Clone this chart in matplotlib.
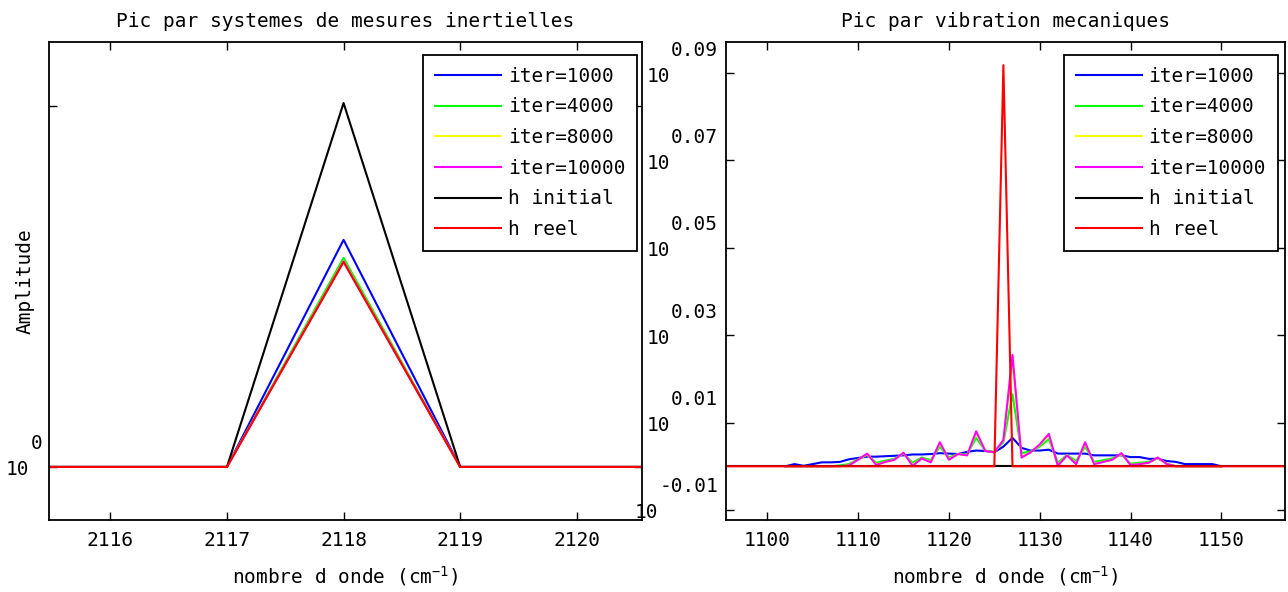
import matplotlib
matplotlib.use('Agg')
import matplotlib.pyplot as plt
import numpy as np
from matplotlib.transforms import offset_copy

plt.rcParams['font.family'] = 'DejaVu Sans Mono'
plt.rcParams['font.size'] = 14
plt.rcParams['mathtext.fontset'] = 'custom'
plt.rcParams['mathtext.rm'] = 'DejaVu Sans Mono'
plt.rcParams['mathtext.default'] = 'rm'

labels = ['iter=1000', 'iter=4000', 'iter=8000', 'iter=10000', 'h initial', 'h reel']
colors = ['#0000ff', '#00ff00', '#ffff00', '#ff00ff', '#000000', '#ff0000']

# --- pic par systemes de mesures inertielles ---
nu_imu = [2115, 2116, 2117, 2118, 2119, 2120, 2121]
imu_iter1000 = [1.0, 1.0, 1.0, 1.629, 1.0, 1.0, 1.0]
imu_iter4000 = [1.0, 1.0, 1.0, 1.579, 1.0, 1.0, 1.0]
imu_iter8000 = [1.0, 1.0, 1.0, 1.570, 1.0, 1.0, 1.0]
imu_iter10000 = [1.0, 1.0, 1.0, 1.569, 1.0, 1.0, 1.0]
imu_h_initial = [1.0, 1.0, 1.0, 2.008, 1.0, 1.0, 1.0]
imu_h_reel = [1.0, 1.0, 1.0, 1.568, 1.0, 1.0, 1.0]

# --- pic par vibration mecaniques ---
nu_vib = list(range(1102, 1151))
vib_iter1000 = [0, 0.0005, 0.0001, 0.0005, 0.0009, 0.0009, 0.0010, 0.0016, 0.0019, 0.0022,
                0.0022, 0.0023, 0.0024, 0.0025, 0.0027, 0.0027, 0.0028, 0.0030, 0.0029, 0.0028,
                0.0033, 0.0036, 0.0035, 0.0032, 0.0045, 0.0065, 0.0042, 0.0036, 0.0036, 0.0038,
                0.0029, 0.0029, 0.0029, 0.0029, 0.0025, 0.0025, 0.0025, 0.0025, 0.0021, 0.0021,
                0.0017, 0.0017, 0.0012, 0.0010, 0.0005, 0.0005, 0.0005, 0.0005, 0]
vib_iter4000 = [0, 0, 0, 0, 0, 0, 0.0002, 0.0005, 0.0016, 0.0026,
                0.0008, 0.0013, 0.0017, 0.0029, 0.0008, 0.0020, 0.0014, 0.0045, 0.0020, 0.0028,
                0.0027, 0.0065, 0.0036, 0.0033, 0.0055, 0.0165, 0.0030, 0.0034, 0.0045, 0.0062,
                0.0008, 0.0026, 0.0012, 0.0045, 0.0010, 0.0014, 0.0018, 0.0027, 0.0006, 0.0008,
                0.0010, 0.0018, 0.0006, 0, 0, 0, 0, 0, 0]
vib_iter8000 = [0, 0, 0, 0, 0, 0, 0, 0.0002, 0.0015, 0.0028,
                0.0004, 0.0010, 0.0015, 0.0030, 0.0002, 0.0018, 0.0010, 0.0053, 0.0016, 0.0028,
                0.0025, 0.0077, 0.0035, 0.0032, 0.0059, 0.0240, 0.0022, 0.0032, 0.0049, 0.0071,
                0.0002, 0.0025, 0.0006, 0.0053, 0.0006, 0.0010, 0.0015, 0.0029, 0.0003, 0.0005,
                0.0008, 0.0019, 0.0005, 0, 0, 0, 0, 0, 0]
vib_iter10000 = [0, 0, 0, 0, 0, 0, 0, 0.0002, 0.0015, 0.0029,
                 0.0003, 0.0010, 0.0015, 0.0031, 0.0001, 0.0018, 0.0009, 0.0055, 0.0015, 0.0028,
                 0.0025, 0.0080, 0.0035, 0.0032, 0.0060, 0.0255, 0.0020, 0.0032, 0.0050, 0.0074,
                 0.0001, 0.0025, 0.0005, 0.0055, 0.0005, 0.0010, 0.0015, 0.0030, 0.0003, 0.0005,
                 0.0008, 0.0020, 0.0005, 0, 0, 0, 0, 0, 0]
nu_ref = [1090, 1125, 1126, 1127, 1160]
vib_h_initial = [0, 0, 0, 0, 0]
vib_h_reel = [0, 0, 0.0918, 0, 0]

imu_yticks = [1.0, 2.0]
vib_yticks = [-0.01, 0.01, 0.03, 0.05, 0.07, 0.09]
vib_ytick_text = ['-0.01', '0.01', '0.03', '0.05', '0.07', '0.09']

fig = plt.figure(figsize=(12.88, 5.92), dpi=100)
ax1 = fig.add_axes([0.0377, 0.1216, 0.4608, 0.8074])
ax2 = fig.add_axes([0.5640, 0.1216, 0.4336, 0.8074])

imu = [imu_iter1000, imu_iter4000, imu_iter8000, imu_iter10000, imu_h_initial, imu_h_reel]
for ys, c, lab in zip(imu, colors, labels):
    ax1.plot(nu_imu, ys, color=c, lw=1.5, label=lab)

vib = [vib_iter1000, vib_iter4000, vib_iter8000, vib_iter10000]
for ys, c, lab in zip(vib, colors[:4], labels[:4]):
    ax2.plot(nu_vib, ys, color=c, lw=1.5, label=lab)
ax2.plot(nu_ref, vib_h_initial, color=colors[4], lw=1.5, label=labels[4])
ax2.plot(nu_ref, vib_h_reel, color=colors[5], lw=1.5, label=labels[5])

ax1.set_xlim(2115.47, 2120.56)
ax1.set_ylim(0.853, 2.177)
ax1.set_xticks([2116, 2117, 2118, 2119, 2120])
ax1.set_yticks(imu_yticks)
ax1.set_yticklabels(['', ''])

ax2.set_xlim(1095.5, 1157.0)
ax2.set_ylim(-0.0123, 0.0971)
ax2.set_xticks([1100, 1110, 1120, 1130, 1140, 1150])
ax2.set_yticks(vib_yticks)
ax2.set_yticklabels([''] * len(vib_yticks))


def log_style_label(ax, y, sup, dx):
    # "10" on the baseline with the exponent raised to its right
    tr = ax.get_yaxis_transform()
    ax.text(0, y, sup, ha='right', va='center', clip_on=False,
            transform=offset_copy(tr, fig=fig, x=dx, y=23, units='dots'))
    ax.text(0, y, '10', ha='right', va='center', clip_on=False,
            transform=offset_copy(tr, fig=fig, x=dx - 11.7 * len(sup) - 1, y=-3, units='dots'))


log_style_label(ax1, 1.0, '0', -6.5)
for y, s in zip(vib_yticks, vib_ytick_text):
    if s.startswith('-'):
        ax2.text(0, y, s, ha='right', va='center', clip_on=False,
                 transform=offset_copy(ax2.get_yaxis_transform(), fig=fig, x=-8.5, y=23, units='dots'))
        ax2.text(0, y, '10', ha='right', va='center', clip_on=False,
                 transform=offset_copy(ax2.get_yaxis_transform(), fig=fig,
                                       x=-8.5 - 11.7 * len(s) - 1, y=-3, units='dots'))
    else:
        log_style_label(ax2, y, s, -8.5)

for ax, title in [(ax1, 'Pic par systemes de mesures inertielles'),
                  (ax2, 'Pic par vibration mecaniques')]:
    ax.set_title(title, fontsize=14, pad=11)
    ax.set_xlabel('nombre d onde (cm$^{-1}$)', labelpad=10)
    ax.tick_params(direction='in', length=6, width=1, top=True, right=True,
                   labelsize=14, pad=8)
    for sp in ax.spines.values():
        sp.set_linewidth(1.3)

ax1.set_ylabel('Amplitude')
ax1.yaxis.set_label_coords(-0.023, 0.5)

ax1.legend(loc='upper right', bbox_to_anchor=(1 - 5 / 593.5, 1 - 13 / 478), borderaxespad=0,
           fancybox=False, edgecolor='black', framealpha=1, handlelength=3.4,
           handletextpad=0.36, labelspacing=0.6, borderpad=0.6).get_frame().set_linewidth(1.3)
ax2.legend(loc='upper right', bbox_to_anchor=(1 - 7 / 558.5, 1 - 13 / 478), borderaxespad=0,
           fancybox=False, edgecolor='black', framealpha=1, handlelength=3.4,
           handletextpad=0.36, labelspacing=0.6, borderpad=0.6).get_frame().set_linewidth(1.3)

fig.savefig('out.png', dpi=100)
